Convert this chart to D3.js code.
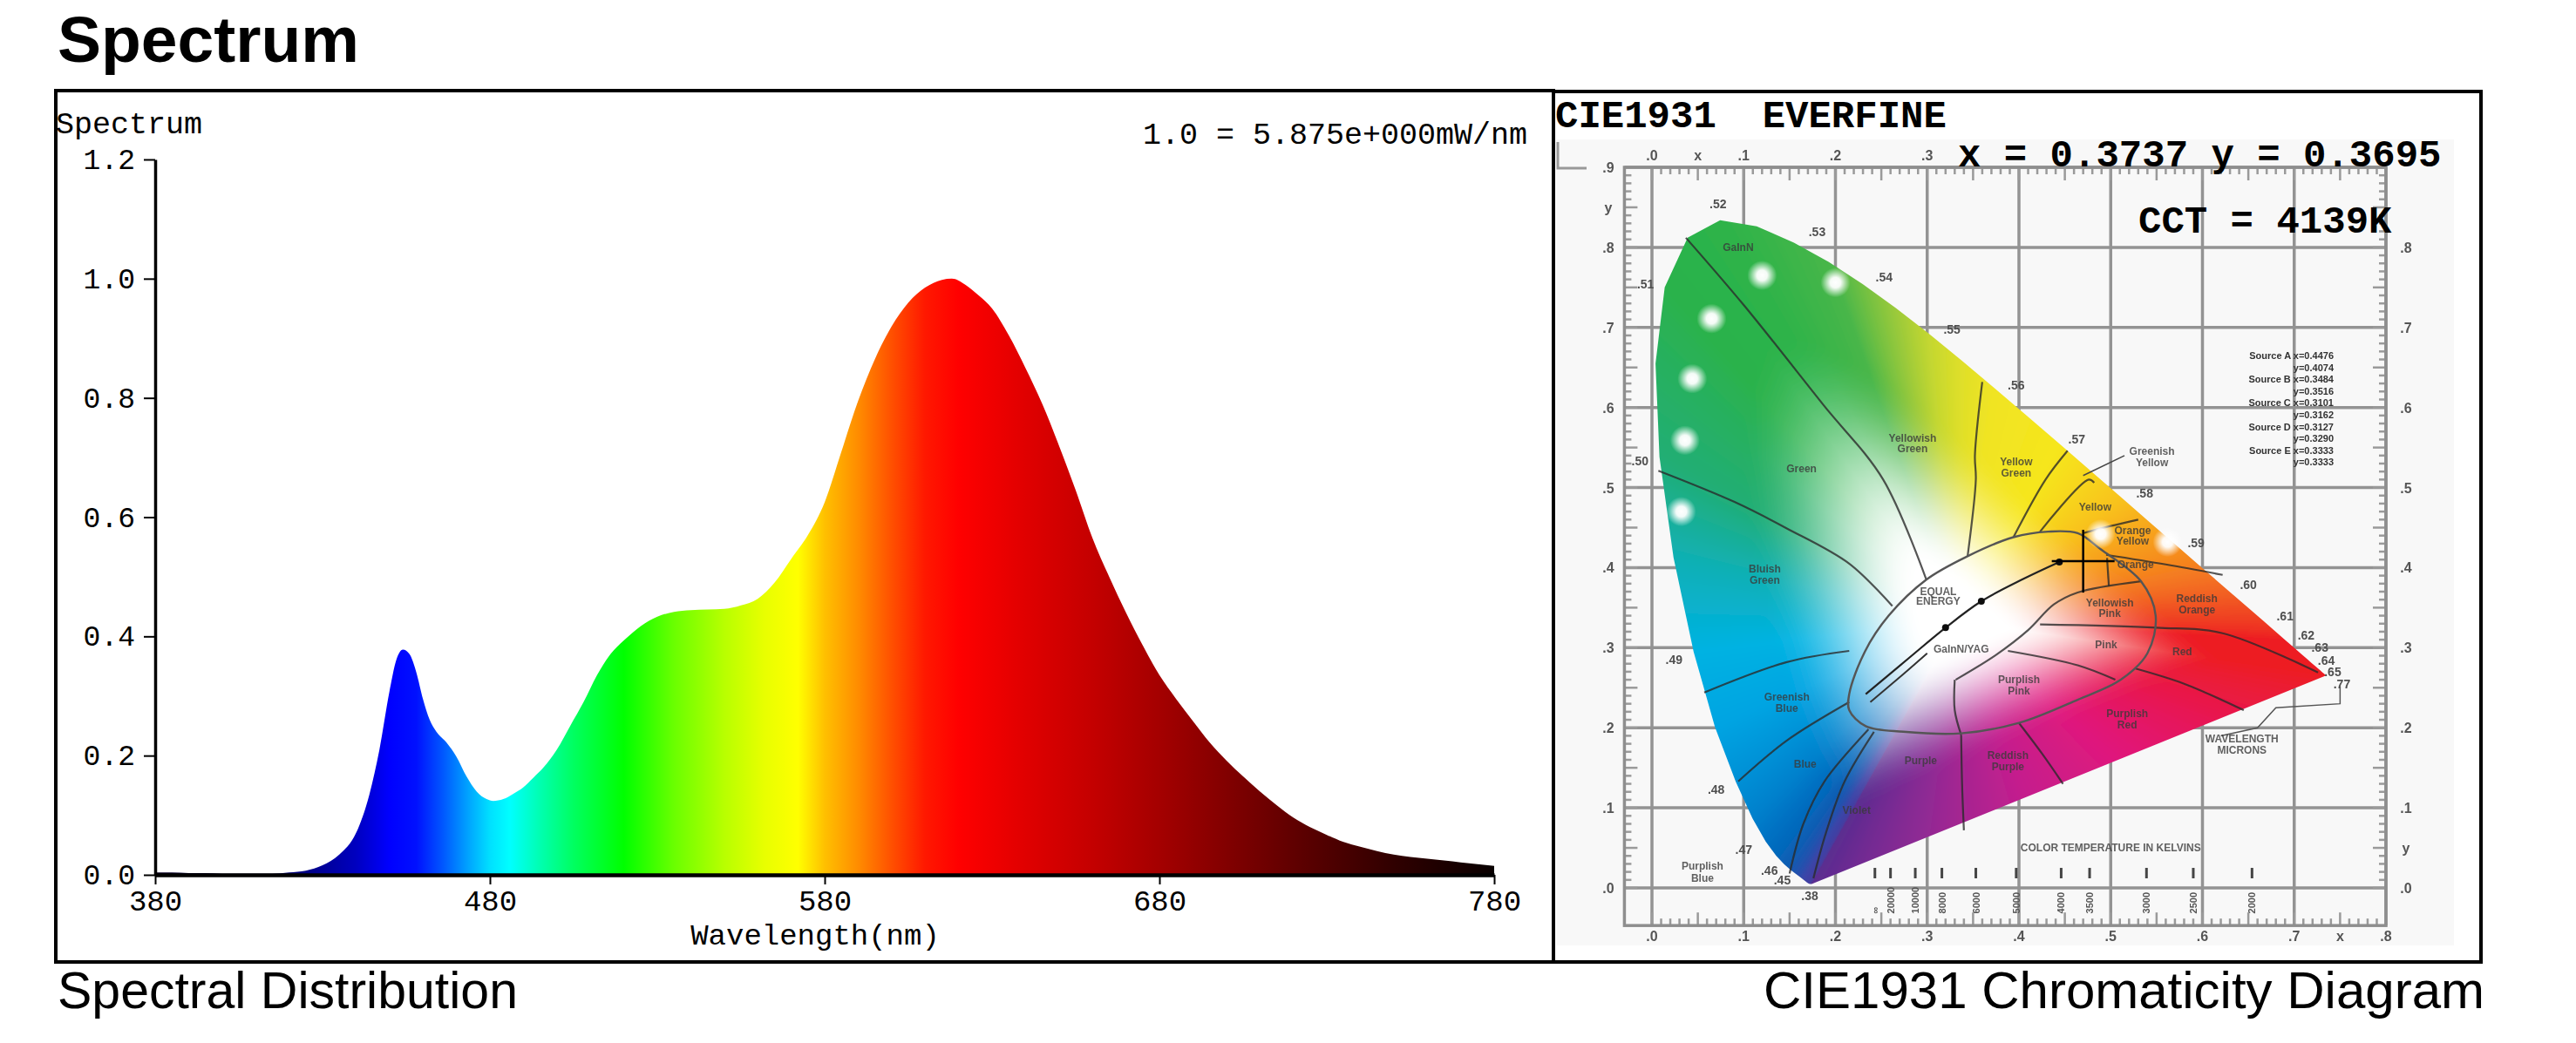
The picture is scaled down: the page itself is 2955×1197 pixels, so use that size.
<!DOCTYPE html>
<html><head><meta charset="utf-8">
<script src="https://cdn.jsdelivr.net/npm/d3@7"></script>
<style>
html,body{margin:0;padding:0;background:#fff;}
svg{display:block;}
</style></head><body>
<script>
// ================= DATA =================
// Spectral distribution (relative, 1.0 = 5.875 mW/nm)
const specNm  = [380,385,390,395,400,405,410,415,420,425,430,435,440,444,447,450,452,454,456,458,460,462,464,467,470,473,476,479,481,484,487,490,493,496,500,504,508,512,516,520,525,530,535,540,545,550,555,560,565,570,575,580,585,590,595,600,605,610,615,618,622,626,630,635,640,645,650,655,660,665,670,675,680,685,690,695,700,705,710,715,720,725,730,735,740,745,750,755,760,765,770,775,780];
const specVal = [0.004,0.004,0.003,0.003,0.002,0.002,0.002,0.002,0.004,0.007,0.016,0.034,0.070,0.135,0.210,0.308,0.360,0.378,0.370,0.340,0.295,0.260,0.240,0.222,0.198,0.165,0.140,0.127,0.124,0.127,0.136,0.147,0.163,0.180,0.210,0.250,0.290,0.335,0.370,0.393,0.417,0.433,0.441,0.444,0.445,0.446,0.452,0.463,0.490,0.530,0.570,0.625,0.710,0.795,0.865,0.920,0.960,0.985,0.998,1.000,0.990,0.972,0.950,0.905,0.850,0.790,0.720,0.645,0.565,0.500,0.440,0.385,0.335,0.295,0.258,0.222,0.192,0.165,0.140,0.117,0.096,0.080,0.067,0.055,0.047,0.040,0.034,0.030,0.027,0.024,0.021,0.018,0.015];
const xTicks = [380,480,580,680,780];
const yTicks = [0,0.2,0.4,0.6,0.8,1.0,1.2];
const gradientNm = [380,420,440,450,458,466,474,480,486,495,505,520,535,550,562,572,580,590,600,610,620,640,660,680,700,720,750,780];
const gradientColors = ["#0a0020","#000070","#0000c0","#0000ff","#0010ff","#0058ff","#00a8ff","#00e0ff","#00ffff","#00ffb0","#00ff60","#00ff00","#6aff00","#b8ff00","#e8ff00","#ffff00","#ffc000","#ff8c00","#ff5000","#ff1800","#ff0000","#e00000","#c40000","#a40000","#820000","#600000","#300000","#080000"];
const fullScaleText = "1.0 = 5.875e+000mW/nm";

// Measurement
const measX = 0.3737, measY = 0.3695, measCCT = 4139;
const markerX = [0.470], markerY = [0.408];   // cross position as printed on the diagram

// CIE 1931 spectral locus
const locusNm = [380,385,390,395,400,405,410,415,420,425,430,435,440,445,450,455,460,465,470,475,480,485,490,495,500,505,510,515,520,525,530,535,540,545,550,555,560,565,570,575,580,585,590,595,600,605,610,615,620,625,630,635,640,645,650,655,660,665,670,680,690,700];
const locusX = [0.1741,0.1740,0.1738,0.1736,0.1733,0.1730,0.1726,0.1721,0.1714,0.1703,0.1689,0.1669,0.1644,0.1611,0.1566,0.1510,0.1440,0.1355,0.1241,0.1096,0.0913,0.0687,0.0454,0.0235,0.0082,0.0039,0.0139,0.0389,0.0743,0.1142,0.1547,0.1929,0.2296,0.2658,0.3016,0.3373,0.3731,0.4087,0.4441,0.4788,0.5125,0.5448,0.5752,0.6029,0.6270,0.6482,0.6658,0.6801,0.6915,0.7006,0.7079,0.7140,0.7190,0.7230,0.7260,0.7283,0.7300,0.7311,0.7320,0.7334,0.7344,0.7347];
const locusY = [0.0050,0.0050,0.0049,0.0049,0.0048,0.0048,0.0048,0.0048,0.0051,0.0058,0.0069,0.0086,0.0109,0.0138,0.0177,0.0227,0.0297,0.0399,0.0578,0.0868,0.1327,0.2007,0.2950,0.4127,0.5384,0.6548,0.7502,0.8120,0.8338,0.8262,0.8059,0.7816,0.7543,0.7243,0.6923,0.6589,0.6245,0.5896,0.5547,0.5202,0.4866,0.4544,0.4242,0.3965,0.3725,0.3514,0.3340,0.3197,0.3083,0.2993,0.2920,0.2859,0.2809,0.2770,0.2740,0.2717,0.2700,0.2689,0.2680,0.2666,0.2656,0.2653];
const locusColorNm = [380,440,460,470,480,486,490,495,500,510,520,535,545,552,560,570,578,586,595,605,620,700];
const locusColors = ["#5a2d90","#3a45a8","#0a5fb4","#0070c2","#0090d6","#00a8e4","#00b2e2","#10b0b4","#22ae74","#2bb24c","#2db34a","#48b649","#9cca3a","#d4dc2c","#f0e424","#f6e61c","#f8cc1a","#f7a21c","#f47a20","#f04e23","#ed1c24","#ed1c24"];
const purpleStops = [0,0.2,0.4,0.6,0.8,1];
const purpleColors = ["#ed1c24","#e8184e","#e0187c","#c21f8e","#8c2a94","#5a2d90"];
const whiteX = 0.3333, whiteY = 0.3333;

// CIE grid ticks
const cieXTicks = [0,0.1,0.2,0.3,0.4,0.5,0.6,0.7,0.8];
const cieXTickLabels = [".0",".1",".2",".3",".4",".5",".6",".7",".8"];
const cieYTicks = [0,0.1,0.2,0.3,0.4,0.5,0.6,0.7,0.8,0.9];
const cieYTickLabels = [".0",".1",".2",".3",".4",".5",".6",".7",".8",".9"];
const cieTopShown = [true,true,true,true,false,false,false,false,false];   // the rest is covered by the readout
const cieRightShown = [true,true,true,true,true,true,true,true,true,false];

// Region boundary lines (as printed)
const regionLines = [
  [[0.037,0.812],[0.10,0.728],[0.187,0.603],[0.252,0.510],[0.299,0.385]],
  [[0.007,0.521],[0.09,0.482],[0.147,0.449],[0.215,0.405],[0.262,0.352]],
  [[0.360,0.632],[0.352,0.540],[0.353,0.510],[0.344,0.414]],
  [[0.453,0.546],[0.429,0.510],[0.394,0.438]],
  [[0.482,0.506],[0.476,0.510],[0.423,0.445]],
  [[0.530,0.460],[0.500,0.452],[0.470,0.443]],
  [[0.495,0.416],[0.560,0.404],[0.622,0.391]],
  [[0.496,0.412],[0.498,0.377]],
  [[0.423,0.329],[0.550,0.325],[0.622,0.318],[0.726,0.269]],
  [[0.388,0.296],[0.464,0.278],[0.505,0.260]],
  [[0.527,0.274],[0.580,0.255],[0.645,0.222]],
  [[0.400,0.206],[0.425,0.168],[0.448,0.130]],
  [[0.337,0.191],[0.338,0.130],[0.340,0.072]],
  [[0.176,0.012],[0.190,0.070],[0.210,0.133],[0.242,0.195]],
  [[0.150,0.018],[0.165,0.080],[0.188,0.133],[0.236,0.198]],
  [[0.094,0.133],[0.147,0.184],[0.215,0.232]],
  [[0.057,0.244],[0.147,0.282],[0.215,0.296]],
  [[0.331,0.260],[0.375,0.291],[0.410,0.322],[0.438,0.354],[0.464,0.369],[0.533,0.383]],
  [[0.330,0.260],[0.330,0.222],[0.337,0.191]]
];
const outerEllipse = [[0.215,0.242],[0.232,0.295],[0.258,0.340],[0.299,0.385],[0.3435,0.414],[0.394,0.438],[0.432,0.445],[0.464,0.443],[0.489,0.423],[0.533,0.383],[0.549,0.340],[0.540,0.293],[0.511,0.260],[0.464,0.235],[0.400,0.206],[0.337,0.193],[0.274,0.195],[0.233,0.202],[0.215,0.222]];
const planckian = [[0.233,0.242],[0.280,0.287],[0.320,0.325],[0.359,0.358],[0.405,0.386],[0.444,0.407]];
const planck2 = [[0.238,0.232],[0.275,0.268],[0.300,0.293]];
const planckDots = [[0.320,0.325],[0.359,0.358],[0.444,0.407]];

// White dots (glare spots of the print)
const dotX = [0.120,0.200,0.065,0.044,0.036,0.032,0.489,0.562];
const dotY = [0.765,0.756,0.711,0.636,0.559,0.470,0.442,0.432];

// Region names as printed
const regionNames = [
  ["GaInN",0.094,0.800],["Green",0.163,0.524],["Yellowish",0.284,0.562],["Green",0.284,0.548],
  ["Yellow",0.397,0.532],["Green",0.397,0.518],["Greenish",0.545,0.545],["Yellow",0.545,0.531],
  ["Yellow",0.483,0.476],["Orange",0.524,0.446],["Yellow",0.524,0.433],["Orange",0.527,0.404],
  ["Reddish",0.594,0.361],["Orange",0.594,0.347],["Red",0.578,0.295],["Pink",0.495,0.304],
  ["Yellowish",0.499,0.356],["Pink",0.499,0.343],["Purplish",0.40,0.260],["Pink",0.40,0.246],
  ["Purplish",0.518,0.218],["Red",0.518,0.204],["Reddish",0.388,0.165],["Purple",0.388,0.151],
  ["Purple",0.293,0.159],["Violet",0.223,0.097],["Blue",0.167,0.155],["Greenish",0.147,0.238],
  ["Blue",0.147,0.224],["Bluish",0.123,0.398],["Green",0.123,0.384],["EQUAL",0.312,0.370],
  ["ENERGY",0.312,0.358],["GaInN/YAG",0.337,0.298],["Purplish",0.055,0.027],["Blue",0.055,0.012],
  ["COLOR TEMPERATURE IN KELVINS",0.50,0.050],["WAVELENGTH",0.643,0.186],["MICRONS",0.643,0.172]
];
// Wavelength marks along the locus (microns)
const wlLabels = [".52",".53",".54",".55",".56",".57",".58",".59",".60",".61",".62",".63",".64",".65",".77",".51",".50",".49",".48",".47",".46",".45",".38"];
const wlX = [0.072,0.180,0.253,0.327,0.397,0.463,0.537,0.593,0.650,0.690,0.713,0.728,0.735,0.742,0.752,-0.007,-0.013,0.024,0.070,0.100,0.128,0.142,0.172];
const wlY = [0.854,0.820,0.763,0.698,0.628,0.560,0.493,0.431,0.379,0.339,0.316,0.300,0.284,0.270,0.255,0.754,0.533,0.285,0.123,0.048,0.022,0.010,-0.010];
// Source table
const sourceLines = ["Source A x=0.4476","y=0.4074","Source B x=0.3484","y=0.3516","Source C x=0.3101","y=0.3162","Source D x=0.3127","y=0.3290","Source E x=0.3333","y=0.3333"];
// CCT scale at the bottom
const cctX = [0.243,0.260,0.287,0.316,0.353,0.397,0.446,0.477,0.539,0.590,0.654];
const cctLabels = ["∞","20000","10000","8000","6000","5000","4000","3500","3000","2500","2000"];

// ================= DRAWING =================
const W = 2955, H = 1197;
const SANS = "'Liberation Sans', Arial, sans-serif";
const MONO = "'Liberation Mono', 'Courier New', monospace";
const svg = d3.select("body").append("svg").attr("width",W).attr("height",H).attr("viewBox",`0 0 ${W} ${H}`);
const defs = svg.append("defs");
svg.append("rect").attr("width",W).attr("height",H).attr("fill","#fff");

// Title & captions
svg.append("text").attr("x",66).attr("y",71).attr("font-family",SANS).attr("font-weight","bold").attr("font-size",75).text("Spectrum");
svg.append("text").attr("x",66).attr("y",1157).attr("font-family",SANS).attr("font-size",59).text("Spectral Distribution");
svg.append("text").attr("x",2850).attr("y",1157).attr("text-anchor","end").attr("font-family",SANS).attr("font-size",60).text("CIE1931 Chromaticity Diagram");

// ---------- Spectrum chart ----------
const xS = d3.scaleLinear().domain([380,780]).range([178,1714]);
const yS = d3.scaleLinear().domain([0,1.2]).range([1004,183]);
const grad = defs.append("linearGradient").attr("id","specGrad").attr("gradientUnits","userSpaceOnUse")
  .attr("x1",xS(380)).attr("x2",xS(780)).attr("y1",0).attr("y2",0);
gradientNm.forEach((nm,i)=>grad.append("stop").attr("offset",(nm-380)/400).attr("stop-color",gradientColors[i]));
const area = d3.area().x(d=>xS(d[0])).y0(yS(0)).y1(d=>yS(d[1])).curve(d3.curveMonotoneX);
svg.append("path").datum(d3.zip(specNm,specVal)).attr("d",area).attr("fill","url(#specGrad)");

const yAx = svg.append("g").attr("transform",`translate(${xS(380)},0)`)
  .call(d3.axisLeft(yS).tickValues(yTicks).tickFormat(d3.format(".1f")).tickSize(13).tickSizeOuter(0).tickPadding(10));
yAx.select(".domain").attr("stroke-width",3.5);
yAx.selectAll(".tick line").attr("stroke-width",2);
yAx.selectAll("text").attr("font-family",MONO).attr("font-size",33).attr("fill","#000");

const xAx = svg.append("g").attr("transform",`translate(0,${yS(0)})`)
  .call(d3.axisBottom(xS).tickValues(xTicks).tickFormat(d3.format("d")).tickSize(11).tickSizeOuter(0).tickPadding(6));
xAx.select(".domain").attr("stroke-width",4.5);
xAx.selectAll(".tick line").attr("stroke-width",2);
xAx.selectAll("text").attr("font-family",MONO).attr("font-size",34).attr("fill","#000");

svg.append("text").attr("x",64).attr("y",153).attr("font-family",MONO).attr("font-size",35).text("Spectrum");
svg.append("text").attr("x",1752).attr("y",165).attr("text-anchor","end").attr("font-family",MONO).attr("font-size",35).text(fullScaleText);
svg.append("text").attr("x",935).attr("y",1084).attr("text-anchor","middle").attr("font-family",MONO).attr("font-size",34).text("Wavelength(nm)");

// ---------- CIE diagram ----------
const cx = d3.scaleLinear().domain([0,0.8]).range([1895,2737]);
const cy = d3.scaleLinear().domain([0,0.9]).range([1019,192]);
const gX0 = -0.03, gY0 = -0.047;

const blur = defs.append("filter").attr("id","soft").attr("x","-5%").attr("y","-5%").attr("width","110%").attr("height","110%");
blur.append("feGaussianBlur").attr("stdDeviation",0.7);

const pic = svg.append("g").attr("filter","url(#soft)");
pic.append("rect").attr("x",1785).attr("y",160).attr("width",1030).attr("height",925).attr("fill","#f8f8f8");
pic.append("path").attr("d","M1787,163 V193 H1820").attr("fill","none").attr("stroke","#999").attr("stroke-width",3);

// grid
const gridG = pic.append("g").attr("stroke","#939393").attr("stroke-width",3.5);
gridG.selectAll("line.v").data(cieXTicks).join("line").attr("class","v")
  .attr("x1",d=>cx(d)).attr("x2",d=>cx(d)).attr("y1",cy(gY0)).attr("y2",cy(0.9));
gridG.selectAll("line.h").data(cieYTicks).join("line").attr("class","h")
  .attr("y1",d=>cy(d)).attr("y2",d=>cy(d)).attr("x1",cx(gX0)).attr("x2",cx(0.8));
// ruler
const rul = pic.append("g").attr("stroke","#9a9a9a").attr("stroke-width",2.5);
const xr = d3.range(0,80).map(i=>i/100), yr = d3.range(0,90).map(i=>i/100);
const tl = d=> (Math.round(d*100)%5===0)?15:8;
rul.selectAll("line.t").data(xr).join("line").attr("class","t").attr("x1",d=>cx(d)).attr("x2",d=>cx(d)).attr("y1",cy(0.9)).attr("y2",d=>cy(0.9)+tl(d));
rul.selectAll("line.b").data(xr).join("line").attr("class","b").attr("x1",d=>cx(d)).attr("x2",d=>cx(d)).attr("y1",cy(gY0)).attr("y2",d=>cy(gY0)-tl(d));
rul.selectAll("line.l").data(yr).join("line").attr("class","l").attr("y1",d=>cy(d)).attr("y2",d=>cy(d)).attr("x1",cx(gX0)).attr("x2",d=>cx(gX0)+tl(d));
rul.selectAll("line.r").data(yr).join("line").attr("class","r").attr("y1",d=>cy(d)).attr("y2",d=>cy(d)).attr("x1",cx(0.8)).attr("x2",d=>cx(0.8)-tl(d));
pic.append("rect").attr("x",cx(gX0)).attr("y",cy(0.9)).attr("width",cx(0.8)-cx(gX0)).attr("height",cy(gY0)-cy(0.9))
  .attr("fill","none").attr("stroke","#8e8e8e").attr("stroke-width",3.5);
// grid labels
const gl = pic.append("g").attr("font-family",SANS).attr("font-weight","bold").attr("font-size",16).attr("fill","#555").attr("text-anchor","middle");
gl.selectAll("text.t").data(cieXTicks.filter((d,i)=>cieTopShown[i])).join("text").attr("class","t").attr("x",d=>cx(d)).attr("y",184).text((d,i)=>cieXTickLabels[i]);
gl.selectAll("text.b").data(cieXTicks).join("text").attr("class","b").attr("x",d=>cx(d)).attr("y",1080).text((d,i)=>cieXTickLabels[i]);
gl.selectAll("text.l").data(cieYTicks).join("text").attr("class","l").attr("x",1845).attr("y",d=>cy(d)+6).text((d,i)=>cieYTickLabels[i]);
gl.selectAll("text.r").data(cieYTicks.filter((d,i)=>cieRightShown[i])).join("text").attr("class","r").attr("x",2760).attr("y",d=>cy(d)+6).text((d,i)=>cieYTickLabels[i]);
gl.append("text").attr("x",cx(0.05)).attr("y",184).text("x");
gl.append("text").attr("x",cx(0.75)).attr("y",1080).text("x");
gl.append("text").attr("x",1845).attr("y",cy(0.85)+6).text("y");
gl.append("text").attr("x",2760).attr("y",cy(0.05)+6).text("y");

// colored locus (computed raster, positioned by the scales)
const locusPts = locusX.map((x,i)=>[cx(x),cy(locusY[i])]);
const locusCol = d3.scaleLinear().domain(locusColorNm).range(locusColors).interpolate(d3.interpolateRgb);
const purpleCol = d3.scaleLinear().domain(purpleStops).range(purpleColors).interpolate(d3.interpolateRgb);
const bverts = locusNm.map((nm,i)=>({p:locusPts[i],c:d3.rgb(locusCol(nm))}));
const pA = locusPts[locusPts.length-1], pB = locusPts[0];
for(let k=1;k<24;k++){const t=k/24;bverts.push({p:[pA[0]+(pB[0]-pA[0])*t,pA[1]+(pB[1]-pA[1])*t],c:d3.rgb(purpleCol(t))});}
const wpx = cx(whiteX), wpy = cy(whiteY);
const NB = 4096, lutD = new Float32Array(NB), lutR = new Float32Array(NB), lutG = new Float32Array(NB), lutB = new Float32Array(NB);
for(let b=0;b<NB;b++){
  const a = (b+0.5)/NB*2*Math.PI-Math.PI, dx=Math.cos(a), dy=Math.sin(a);
  let best=Infinity, r=255,g=255,bl=255;
  for(let i=0;i<bverts.length;i++){
    const P=bverts[i], Q=bverts[(i+1)%bverts.length];
    const ex=Q.p[0]-P.p[0], ey=Q.p[1]-P.p[1], fx=P.p[0]-wpx, fy=P.p[1]-wpy;
    const den = -dx*ey+ex*dy; if(Math.abs(den)<1e-9) continue;
    const s = (-fx*ey+ex*fy)/den, u = (dx*fy-dy*fx)/den;
    if(s>0 && u>=-1e-6 && u<=1+1e-6 && s<best){best=s;r=P.c.r+(Q.c.r-P.c.r)*u;g=P.c.g+(Q.c.g-P.c.g)*u;bl=P.c.b+(Q.c.b-P.c.b)*u;}
  }
  lutD[b]=best;lutR[b]=r;lutG[b]=g;lutB[b]=bl;
}
const bx0=Math.floor(cx(-0.005)), bx1=Math.ceil(cx(0.745)), by0=Math.floor(cy(0.845)), by1=Math.ceil(cy(-0.005));
const cw=bx1-bx0, ch=by1-by0;
const canvas = d3.create("canvas").attr("width",cw).attr("height",ch).node();
const ctx = canvas.getContext("2d"); const img = ctx.createImageData(cw,ch);
const sstep=(e0,e1,v)=>{const t=Math.max(0,Math.min(1,(v-e0)/(e1-e0)));return t*t*(3-2*t);};
for(let j=0;j<ch;j++){for(let i=0;i<cw;i++){
  const dx=bx0+i+0.5-wpx, dy=by0+j+0.5-wpy;
  let b=Math.floor((Math.atan2(dy,dx)+Math.PI)/(2*Math.PI)*NB); if(b>=NB)b=NB-1; if(b<0)b=0;
  const t=Math.sqrt(dx*dx+dy*dy)/lutD[b];
  const s=sstep(0.13,0.72,t);
  const k=(j*cw+i)*4;
  img.data[k]=255+(lutR[b]-255)*s; img.data[k+1]=255+(lutG[b]-255)*s; img.data[k+2]=255+(lutB[b]-255)*s; img.data[k+3]=255;
}}
ctx.putImageData(img,0,0);
defs.append("clipPath").attr("id","locusClip").append("path").attr("d",d3.line()(locusPts)+"Z");
pic.append("image").attr("href",canvas.toDataURL()).attr("x",bx0).attr("y",by0).attr("width",cw).attr("height",ch)
  .attr("preserveAspectRatio","none").attr("clip-path","url(#locusClip)");

// boundary lines
const cl = d3.line().x(d=>cx(d[0])).y(d=>cy(d[1])).curve(d3.curveCatmullRom);
const rl = pic.append("g").attr("fill","none").attr("stroke","#2a2a2a").attr("stroke-width",2.2).attr("stroke-opacity",0.8);
rl.selectAll("path").data(regionLines).join("path").attr("d",cl);
pic.append("path").datum(outerEllipse).attr("d",d3.line().x(d=>cx(d[0])).y(d=>cy(d[1])).curve(d3.curveCatmullRomClosed))
  .attr("fill","none").attr("stroke","#555").attr("stroke-width",2.4);
pic.append("path").datum(planckian).attr("d",cl).attr("fill","none").attr("stroke","#222").attr("stroke-width",2.2);
pic.append("path").datum(planck2).attr("d",cl).attr("fill","none").attr("stroke","#333").attr("stroke-width",2);
pic.selectAll("circle.pd").data(planckDots).join("circle").attr("class","pd").attr("cx",d=>cx(d[0])).attr("cy",d=>cy(d[1])).attr("r",4).attr("fill","#111");
// leader lines
pic.append("path").attr("d",`M${cx(0.515)},${cy(0.540)} L${cx(0.470)},${cy(0.515)}`).attr("stroke","#444").attr("stroke-width",1.5);
pic.append("path").attr("d",`M${cx(0.62)},${cy(0.19)} L${cx(0.66)},${cy(0.20)} L${cx(0.68)},${cy(0.225)} L${cx(0.75)},${cy(0.23)} L${cx(0.75)},${cy(0.252)}`).attr("fill","none").attr("stroke","#555").attr("stroke-width",1.5);

// labels
const lab = pic.append("g").attr("font-family",SANS).attr("font-weight","bold").attr("font-size",12).attr("fill","#3a3a3a").attr("text-anchor","middle").attr("fill-opacity",0.8);
lab.selectAll("text.rn").data(regionNames).join("text").attr("class","rn").attr("x",d=>cx(d[1])).attr("y",d=>cy(d[2])+4).text(d=>d[0]);
const wl = pic.append("g").attr("font-family",SANS).attr("font-weight","bold").attr("font-size",14).attr("fill","#505050").attr("text-anchor","middle");
wl.selectAll("text").data(wlLabels).join("text").attr("x",(d,i)=>cx(wlX[i])).attr("y",(d,i)=>cy(wlY[i])+5).text(d=>d);
const st = pic.append("g").attr("font-family",SANS).attr("font-weight","bold").attr("font-size",11).attr("fill","#333").attr("text-anchor","end");
st.selectAll("text").data(sourceLines).join("text").attr("x",2677).attr("y",(d,i)=>412+i*13.6).text(d=>d);
const cct = pic.append("g").attr("font-family",SANS).attr("font-weight","bold").attr("font-size",11).attr("fill","#555");
cct.selectAll("line").data(cctX).join("line").attr("x1",d=>cx(d)).attr("x2",d=>cx(d)).attr("y1",cy(0.025)).attr("y2",cy(0.012)).attr("stroke","#444").attr("stroke-width",3);
cct.selectAll("text").data(cctX).join("text").attr("transform",d=>`translate(${cx(d)+4},${cy(-0.032)}) rotate(-90)`).text((d,i)=>cctLabels[i]);

// glare dots
const glow = defs.append("radialGradient").attr("id","glow");
glow.append("stop").attr("offset",0).attr("stop-color","#fff").attr("stop-opacity",1);
glow.append("stop").attr("offset",0.35).attr("stop-color","#fff").attr("stop-opacity",0.95);
glow.append("stop").attr("offset",1).attr("stop-color","#fff").attr("stop-opacity",0);
pic.selectAll("circle.dot").data(dotX).join("circle").attr("class","dot").attr("cx",d=>cx(d)).attr("cy",(d,i)=>cy(dotY[i])).attr("r",17).attr("fill","url(#glow)");

// cross marker
const mk = svg.append("g").attr("stroke","#000").attr("stroke-width",2.5);
mk.selectAll("line.h").data(markerX).join("line").attr("class","h").attr("x1",(d)=>cx(d)-36).attr("x2",d=>cx(d)+36).attr("y1",(d,i)=>cy(markerY[i])).attr("y2",(d,i)=>cy(markerY[i]));
mk.selectAll("line.v").data(markerX).join("line").attr("class","v").attr("x1",d=>cx(d)).attr("x2",d=>cx(d)).attr("y1",(d,i)=>cy(markerY[i])-36).attr("y2",(d,i)=>cy(markerY[i])+36);

// overlay texts
const ov = svg.append("g").attr("font-family",MONO).attr("font-weight","bold").attr("font-size",44).attr("fill","#000");
ov.append("text").attr("x",1784).attr("y",146).text("CIE1931\u00a0\u00a0EVERFINE");
ov.append("text").attr("x",2246).attr("y",191).text(`x = ${measX.toFixed(4)} y = ${measY.toFixed(4)}`);
ov.append("text").attr("x",2453).attr("y",267).text(`CCT = ${measCCT}K`);

// frames
const fr = svg.append("g").attr("fill","none").attr("stroke","#000").attr("stroke-width",4);
fr.append("rect").attr("x",64).attr("y",104).attr("width",1718).attr("height",1000);
fr.append("rect").attr("x",1782).attr("y",105).attr("width",1064).attr("height",999);
</script>
</body></html>
